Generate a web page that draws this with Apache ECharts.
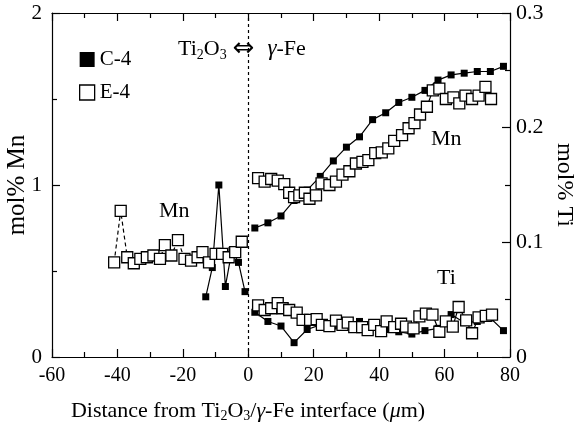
<!DOCTYPE html>
<html>
<head>
<meta charset="utf-8">
<script src="https://cdn.jsdelivr.net/npm/echarts@6/dist/echarts.min.js"></script>
<style>
  html, body { margin: 0; padding: 0; background: #fff; }
  #chart { width: 576px; height: 427px; }
</style>
</head>
<body>
<div id="chart"></div>
<script>
// C-4 (filled squares)
const c4MnLeftX = [-13, -11, -9, -7, -5, -3, -1];
const c4MnLeft = [0.35, 0.52, 1.0, 0.41, 0.62, 0.55, 0.38];
const c4X = [2, 6, 10, 14, 18, 22, 26, 30, 34, 38, 42, 46, 50, 54, 58, 62, 66, 70, 74, 78];
const c4Mn = [0.75, 0.78, 0.82, 0.91, 0.97, 1.05, 1.14, 1.22, 1.28, 1.38, 1.42, 1.48, 1.51, 1.55, 1.61, 1.64, 1.65, 1.66, 1.66, 1.69];
const c4Ti = [0.039, 0.031, 0.027, 0.0125, 0.024, 0.028, 0.027, 0.026, 0.031, 0.026, 0.024, 0.022, 0.020, 0.023, 0.025, 0.037, 0.030, 0.031, 0.034, 0.023];

// E-4 (open squares)
const e4MnLeftX = [-41, -39, -37, -35, -33, -31, -29, -27, -25.5, -23.5, -21.5, -19.5, -17.5, -15.5, -14, -12, -10, -8, -6, -4, -2];
const e4MnLeft = [0.55, 0.85, 0.58, 0.545, 0.57, 0.58, 0.59, 0.57, 0.65, 0.59, 0.68, 0.57, 0.56, 0.58, 0.61, 0.55, 0.60, 0.60, 0.58, 0.61, 0.67];
const e4MnX = [3, 5, 7, 9, 11, 12.5, 14, 15.6, 17.3, 18.7, 20.7, 22.4, 24.8, 26.8, 28.8, 30.9, 32.9, 34.9, 36.7, 38.8, 40.8, 42.8, 44.6, 47, 49, 50.8, 52.5, 54.6, 56.4, 58.4, 60.4, 62.7, 64.5, 66.4, 68.4, 70.4, 72.5, 74.2];
const e4Mn = [1.04, 1.02, 1.035, 1.025, 1.005, 0.955, 0.93, 0.94, 0.955, 0.92, 0.94, 1.01, 1.0, 1.02, 1.06, 1.08, 1.125, 1.135, 1.145, 1.185, 1.19, 1.213, 1.256, 1.29, 1.33, 1.36, 1.41, 1.455, 1.55, 1.56, 1.50, 1.51, 1.475, 1.52, 1.50, 1.52, 1.57, 1.50];
const e4TiX = [3, 5, 7, 9, 10.5, 12.5, 14.8, 16.6, 18.9, 20.9, 22.5, 24.8, 26.8, 28.8, 30.4, 32.4, 34.8, 36.5, 38.5, 40.6, 42.3, 44.6, 46.7, 48.2, 50.5, 52.3, 54.3, 56.3, 58.4, 60.4, 62.5, 64.3, 66.6, 68.4, 70.4, 72.6, 74.5];
const e4Ti = [0.045, 0.041, 0.0425, 0.047, 0.0425, 0.041, 0.0387, 0.0323, 0.0323, 0.033, 0.028, 0.027, 0.0317, 0.028, 0.030, 0.026, 0.026, 0.0235, 0.028, 0.0225, 0.031, 0.026, 0.029, 0.0265, 0.025, 0.0355, 0.0378, 0.037, 0.022, 0.031, 0.0265, 0.0436, 0.032, 0.0207, 0.0345, 0.0358, 0.037];

// tick labels
const xTicks = [-60, -40, -20, 0, 20, 40, 60, 80];
const mnTicks = [0, 1, 2];
const tiTicks = ['0', '0.1', '0.2', '0.3'];

const pair = (xs, ys) => xs.map((x, i) => [x, ys[i]]);
const serif = 'Liberation Serif';

const chart = echarts.init(document.getElementById('chart'));

const filled = { color: '#000' };
const open = { color: '#fff', borderColor: '#000', borderWidth: 1.3 };
const solid = { color: '#000', width: 1.2 };

const axisCommon = {
  axisLine: { show: true, onZero: false, lineStyle: { color: '#000', width: 1.2 } },
  axisTick: { show: true, inside: true, length: 8, lineStyle: { color: '#000', width: 1.2 } },
  minorTick: { show: true, splitNumber: 2, length: 5, lineStyle: { color: '#000', width: 1.2 } },
  splitLine: { show: false },
  nameMoveOverlap: false
};

chart.setOption({
  animation: false,
  grid: { left: 52, right: 66, top: 13, bottom: 70, outerBoundsMode: 'none', containLabel: false },
  legend: {
    orient: 'vertical',
    left: 74,
    top: 44,
    itemWidth: 15,
    itemHeight: 15,
    itemGap: 12,
    textStyle: { fontFamily: serif, fontSize: 21, color: '#000' },
    data: [
      { name: 'C-4', icon: 'rect', itemStyle: filled },
      { name: 'E-4', icon: 'rect', itemStyle: open }
    ]
  },
  xAxis: [{
    ...axisCommon,
    type: 'value', min: -60, max: 80, interval: 20,
    position: 'bottom',
    axisLabel: {
      margin: 9, fontFamily: serif, fontSize: 20, color: '#000',
      formatter: v => xTicks.includes(v) ? String(v) : ''
    },
    name: 'Distance from Ti{sub|2}O{sub|3}/{it|γ}-Fe interface ({it|μ}m)',
    nameLocation: 'middle',
    nameGap: 43,
    nameTextStyle: {
      fontFamily: serif, fontSize: 22, color: '#000',
      padding: [0, 66, 0, 0],
      rich: {
        sub: { fontFamily: serif, fontSize: 14, verticalAlign: 'bottom', padding: [9, 0, 0, 0] },
        it: { fontFamily: serif, fontSize: 22, fontStyle: 'italic' }
      }
    }
  }, {
    ...axisCommon,
    type: 'value', min: -60, max: 80, interval: 20,
    position: 'top',
    axisLabel: { show: false }
  }],
  yAxis: [{
    ...axisCommon,
    type: 'value', min: 0, max: 2, interval: 1,
    position: 'left',
    axisLabel: {
      margin: 10, fontFamily: serif, fontSize: 21, color: '#000',
      formatter: v => mnTicks.includes(v) ? String(v) : ''
    },
    name: 'mol% Mn',
    nameLocation: 'middle',
    nameGap: 22,
    nameTextStyle: { fontFamily: serif, fontSize: 25, color: '#000' }
  }, {
    ...axisCommon,
    type: 'value', min: 0, max: 0.3, interval: 0.1,
    position: 'right',
    axisLabel: {
      margin: 6, fontFamily: serif, fontSize: 22, color: '#000',
      formatter: v => tiTicks[Math.round(v * 10)]
    },
    name: 'mol% Ti',
    nameLocation: 'middle',
    nameRotate: -90,
    nameGap: 42,
    nameTextStyle: { fontFamily: serif, fontSize: 24, color: '#000' }
  }],
  graphic: [
    {
      type: 'text', left: 178, top: 36,
      style: {
        text: 'Ti{sub|2}O{sub|3}{arr|⇔}{it|γ}-Fe',
        fontFamily: serif, fontSize: 22, fill: '#000',
        rich: {
          sub: { fontFamily: serif, fontSize: 14, verticalAlign: 'bottom', padding: [9, 0, 0, 0] },
          arr: { fontFamily: 'DejaVu Sans', fontSize: 26, padding: [0, 13, 0, 6] },
          it: { fontFamily: serif, fontSize: 23, fontStyle: 'italic' }
        }
      }
    },
    { type: 'text', left: 159, top: 200, style: { text: 'Mn', fontFamily: serif, fontSize: 22, fill: '#000' } },
    { type: 'text', left: 431, top: 128, style: { text: 'Mn', fontFamily: serif, fontSize: 22, fill: '#000' } },
    { type: 'text', left: 437, top: 267, style: { text: 'Ti', fontFamily: serif, fontSize: 22, fill: '#000' } }
  ],
  series: [
    {
      name: 'C-4', type: 'line', xAxisIndex: 0, yAxisIndex: 0,
      symbol: 'rect', symbolSize: 7, itemStyle: filled, lineStyle: solid,
      data: pair(c4MnLeftX, c4MnLeft),
      markLine: {
        silent: true, symbol: 'none', label: { show: false },
        lineStyle: { color: '#000', width: 1.2, type: [3, 3] },
        data: [{ xAxis: 0 }]
      }
    },
    {
      name: 'C-4', type: 'line', xAxisIndex: 0, yAxisIndex: 0,
      symbol: 'rect', symbolSize: 7, itemStyle: filled, lineStyle: solid,
      data: pair(c4X, c4Mn)
    },
    {
      name: 'C-4', type: 'line', xAxisIndex: 0, yAxisIndex: 1,
      symbol: 'rect', symbolSize: 7, itemStyle: filled, lineStyle: solid,
      data: pair(c4X, c4Ti)
    },
    {
      name: 'E-4', type: 'line', xAxisIndex: 0, yAxisIndex: 0,
      symbol: 'rect', symbolSize: 11, itemStyle: open,
      lineStyle: { color: '#000', width: 1.2, type: [4, 3] },
      data: pair(e4MnLeftX, e4MnLeft)
    },
    {
      name: 'E-4', type: 'line', xAxisIndex: 0, yAxisIndex: 0,
      symbol: 'rect', symbolSize: 11, itemStyle: open, lineStyle: solid,
      data: pair(e4MnX, e4Mn)
    },
    {
      name: 'E-4', type: 'line', xAxisIndex: 0, yAxisIndex: 1,
      symbol: 'rect', symbolSize: 11, itemStyle: open, lineStyle: solid,
      data: pair(e4TiX, e4Ti)
    }
  ]
});
</script>
</body>
</html>
